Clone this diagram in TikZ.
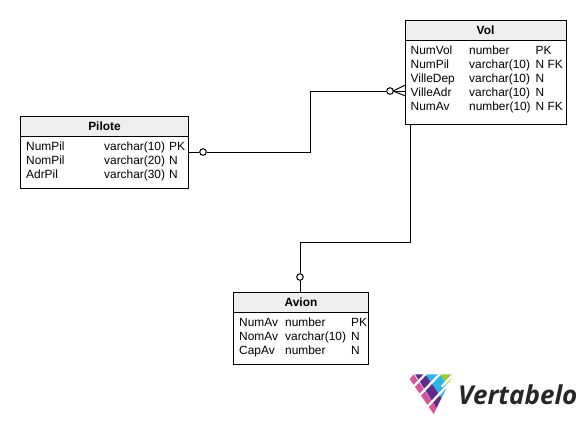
\documentclass[tikz,border=0pt]{standalone}
\usepackage{fontspec}
\setmainfont{Liberation Sans}
\newfontfamily\logofont[ItalicFont={Open Sans Bold Italic}]{Open Sans}
\usepackage{xcolor}
\usetikzlibrary{positioning}
\definecolor{headgray}{HTML}{EEEEEE}
\definecolor{logopink}{HTML}{D9539B}
\definecolor{logopurple}{HTML}{5F2C8C}
\definecolor{logocyan}{HTML}{2DB5E8}
\definecolor{logogreen}{HTML}{9CC63C}
\definecolor{logotext}{HTML}{262626}

\newcommand{\rowfont}{\fontsize{11.9}{14}\selectfont}

\begin{document}
\begin{tikzpicture}[
  x=1pt, y=-1pt,
  node distance=0pt,
  thead/.style={draw, line width=1pt, outer sep=0pt, fill=headgray, inner sep=0pt, font=\fontsize{11.9}{14}\selectfont\bfseries},
  tbody/.style={draw, line width=1pt, outer sep=0pt, fill=white, inner sep=0pt},
  trows/.style={anchor=north west, inner sep=0pt, font=\rowfont, align=left},
  ring/.style={draw, circle, line width=1pt, fill=white, inner sep=0pt, minimum size=6.6pt},
  link/.style={line width=1pt},
  logocut/.style={draw=white, line width=2.3pt},
]
\useasboundingbox (0,0) rectangle (585,424);

% Vol
\node[thead, minimum width=161pt, minimum height=20pt] (volhead) at (485.5,30) {Vol};
\node[tbody, minimum width=161pt, minimum height=84pt, below=0pt of volhead] (volbody) {};
\node[trows] (volrows) at (410.5,44) {\begin{tabular}{@{}p{58.5pt}@{}p{66.5pt}@{}l@{}}
NumVol & number & PK\\
NumPil & varchar(10) & N FK\\
VilleDep & varchar(10) & N\\
VilleAdr & varchar(10) & N\\
NumAv & number(10) & N FK
\end{tabular}};

% Pilote
\node[thead, minimum width=168pt, minimum height=20pt] (pilhead) at (104.5,126.5) {Pilote};
\node[tbody, minimum width=168pt, minimum height=51.5pt, below=0pt of pilhead] (pilbody) {};
\node[trows] (pilrows) at (26,140.5) {\begin{tabular}{@{}p{78pt}@{}p{65pt}@{}l@{}}
NumPil & varchar(10) & PK\\
NomPil & varchar(20) & N\\
AdrPil & varchar(30) & N
\end{tabular}};

% Avion
\node[thead, minimum width=135.5pt, minimum height=20pt] (avhead) at (301,302.5) {Avion};
\node[tbody, minimum width=135.5pt, minimum height=52pt, below=0pt of avhead] (avbody) {};
\node[trows] (avrows) at (239,316) {\begin{tabular}{@{}p{46pt}@{}p{66pt}@{}l@{}}
NumAv & number & PK\\
NomAv & varchar(10) & N\\
CapAv & number & N
\end{tabular}};

% Links
\node[ring] (ringpil) at (203,152) {};
\node[ring] (ringvol) at (390,91) {};
\node[ring] (ringav) at (300,277) {};
\coordinate (kneepil) at (310,120);
\coordinate (kneeav) at (355,242);
\coordinate (startav) at (410.5,124);
\coordinate (footvol) at (393,91);
\coordinate (footup) at (405.5,85);
\coordinate (footdown) at (405.5,96);

\draw[link] (pilbody.east |- ringpil) -- (ringpil);
\draw[link] (ringpil) -- (ringpil -| kneepil) -- (kneepil |- ringvol) -- (ringvol);
\draw[link] (ringvol) -- (volbody.west |- ringvol);
\draw[link] (footvol) -- (footup);
\draw[link] (footvol) -- (footdown);
\draw[link] (startav) -- (startav |- kneeav) -- (kneeav -| ringav) -- (ringav);
\draw[link] (ringav) -- (avhead.north -| ringav);

% Logo
\begin{scope}[shift={(405,370)}, x=0.3333pt, y=-0.3333pt]
\fill[logopink] (14,27) -- (26,13) -- (95,114) -- (86,132) -- cycle;
\fill[logopurple] (30,13) -- (62,13) -- (110,83) -- (95,114) -- cycle;
\fill[logocyan] (62,13) -- (105,13) -- (128,47) -- (110,83) -- cycle;
\fill[logogreen] (105,13) -- (145,13) -- (128,47) -- cycle;
\draw[logocut] (15,61) -- (68,5);
\draw[logocut] (35,85) -- (115,1);
\draw[logocut] (55,123) -- (150,22);
\draw[logocut] (110,50) -- (150,8);
\end{scope}
\node[anchor=base west, inner sep=0pt, text=logotext, font=\fontsize{26}{26}\logofont\itshape] (logotxt) at (458,404) {Vertabelo};
\end{tikzpicture}
\end{document}
